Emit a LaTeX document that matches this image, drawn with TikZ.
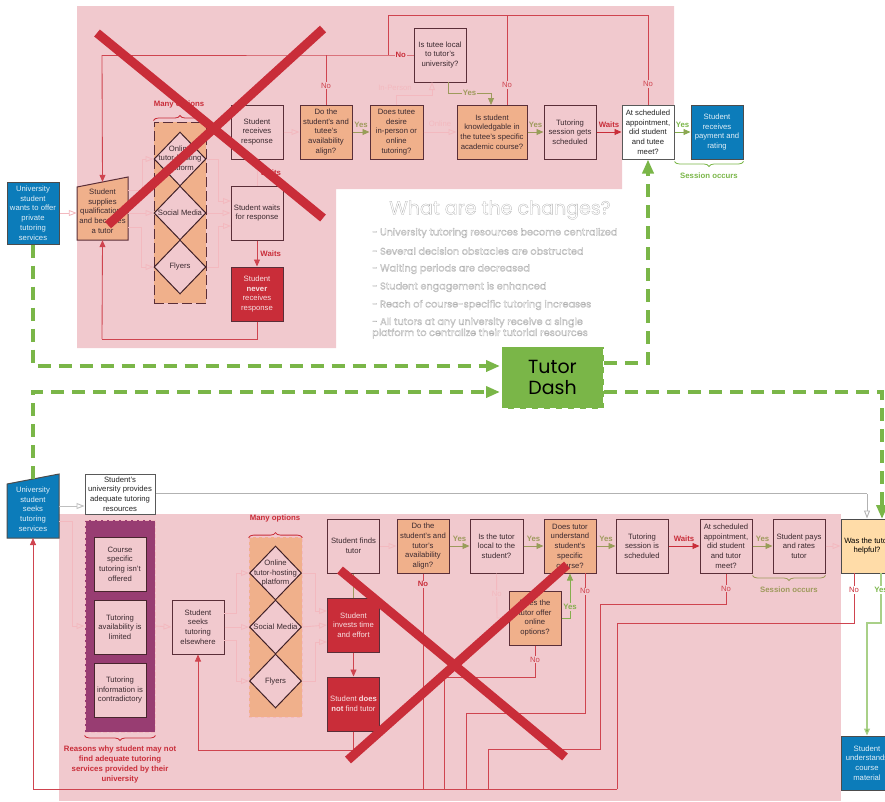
\documentclass[tikz,border=0pt]{standalone}
\usepackage{fontspec}
\setmainfont{Liberation Sans}
\newfontfamily\techfont{Poppins}
\usetikzlibrary{arrows.meta,shapes.geometric,decorations.pathreplacing}
\definecolor{wash}{HTML}{F1C9CE}
\definecolor{peach}{HTML}{F0B08B}
\definecolor{edge}{HTML}{5A2E38}
\definecolor{ink}{HTML}{3C2A30}
\definecolor{seablue}{HTML}{0C7CBA}
\definecolor{crimson}{HTML}{C92D39}
\definecolor{sour}{HTML}{9E9A5C}
\definecolor{leaf}{HTML}{7AB648}
\definecolor{faint}{HTML}{F3B9BF}
\definecolor{plum}{HTML}{983D72}
\definecolor{sand}{HTML}{FFDCA8}
\newcommand{\boxfont}{\fontsize{7.7}{9.7}\selectfont}
\newcommand{\inkline}[1]{\special{pdf:code 1 Tr 0.3 w}#1\special{pdf:code 0 Tr}}
\tikzset{
  stepbox/.style={draw=edge,line width=1pt,fill=wash,text=ink,minimum width=52pt,minimum height=54pt,inner sep=0pt,align=center,font=\boxfont},
  peachbox/.style={stepbox,fill=peach},
  bluebox/.style={stepbox,fill=seablue,draw=black!70,text=white!88!seablue},
  redbox/.style={stepbox,fill=crimson,text=white!85!crimson},
  whitebox/.style={stepbox,fill=white,draw=black!65,text=black!85},
  optionbox/.style={diamond,draw=edge!70!black,line width=1pt,fill=wash,minimum width=52pt,minimum height=54pt,inner sep=0pt,label={[align=center,font=\boxfont,text=ink]center:{#1}}},
  redline/.style={draw=crimson!85!wash,line width=0.85pt,-{Triangle[length=7pt,width=6pt]}},
  redrun/.style={draw=crimson!85!wash,line width=0.85pt},
  yesline/.style={draw=sour,line width=0.85pt,-{Triangle[length=7pt,width=6pt,fill=sour!70!leaf]}},
  paleline/.style={draw=faint,line width=0.9pt,-{Triangle[length=8pt,width=6pt,open]}},
  paleplain/.style={draw=faint,line width=0.9pt},
  greendash/.style={draw=leaf,line width=3.6pt,dash pattern=on 13pt off 8pt,-{Triangle[length=14pt,width=11pt,fill=leaf]}},
  redcross/.style={draw=crimson,line width=9pt},
  bracketline/.style={decorate,decoration={brace,amplitude=5pt},line width=0.8pt},
  notelabel/.style={font=\fontsize{7.8}{9.7}\selectfont\bfseries,inner sep=0pt,align=center},
  nolabel/.style={notelabel,text=crimson!85!wash,fill=wash,inner sep=1pt,font=\fontsize{7.7}{9}\selectfont},
  yeslabel/.style={notelabel,text=sour},
  changeline/.style={anchor=west,inner sep=0pt,align=left,text=black!32,font=\fontsize{9.7}{10}\techfont}
}
\begin{document}
\begin{tikzpicture}[x=1pt,y=-1pt]
    \useasboundingbox (0,0) rectangle (885,801);
    %% Washes
    \fill[wash] (77,6) -- (674,6) -- (674,159) -- (622,159) -- (622,189) -- (336,189) -- (336,348) -- (77,348) -- cycle;
    \fill[wash] (59,514) rectangle (841,801);

    %% Top blocks
    \node[bluebox,minimum height=62pt] (offer) at (33,213) {University\\student\\wants to offer\\private\\tutoring\\services};
    \draw[edge,line width=1pt,fill=peach] (77,187) -- (128,177) -- (128,240) -- (77,240) -- cycle;
    \node[inner sep=0pt,minimum width=51pt,minimum height=58pt,align=center,font=\boxfont,text=ink] (supply) at (102.5,211) {Student\\supplies\\qualifications\\and becomes\\a tutor};
    \node[draw=edge,line width=1pt,dash pattern=on 10pt off 4pt,fill=peach,minimum width=52pt,minimum height=181pt,inner sep=0pt] (optpanel) at (180,212.5) {};
    \node[optionbox={Online\\tutor-hosting\\platform}] (optweb) at (180,159) {};
    \node[optionbox={Social Media}] (optsocial) at (180,213) {};
    \node[optionbox={Flyers}] (optflyer) at (180,267) {};
    \node[stepbox] (response) at (257,132) {Student\\receives\\response};
    \node[stepbox] (waiting) at (257,213) {Student waits\\for response};
    \node[redbox] (never) at (257,294) {Student\\\textbf{never}\\receives\\response};
    \node[peachbox] (avail) at (326,132) {Do the\\student's and\\tutee's\\availability\\align?};
    \node[peachbox,minimum width=53pt] (mode) at (396.5,132) {Does tutee\\desire\\in-person or\\online\\tutoring?};
    \node[stepbox] (local) at (440,55) {Is tutee local\\to tutor's\\university?};
    \node[peachbox,minimum width=70pt] (course) at (492,132) {Is student\\knowledgable in\\the tutee's specific\\academic course?};
    \node[stepbox] (booked) at (570,132) {Tutoring\\session gets\\scheduled};
    \node[whitebox] (meet) at (648,132) {At scheduled\\appointment,\\did student\\and tutee\\meet?};
    \node[bluebox] (paid) at (717,132) {Student\\receives\\payment and\\rating};
    \node[notelabel,text=crimson] (manytop) at (179,104) {Many options};
    \node[notelabel,text=leaf] (sessiontop) at (709,176) {Session occurs};
    \draw[bracketline,draw=crimson] ([yshift=1pt]optpanel.north west) -- ([yshift=1pt]optpanel.north east);
    \draw[bracketline,draw=leaf,decoration={mirror}] ([yshift=-2pt]meet.south east) -- ([yshift=-2pt]paid.south east);

    %% Top connectors
    \coordinate (noreturn) at (388,15);
    \coordinate (nobranch) at (102,55);
    \draw[redrun] (local.west) -- node[nolabel,text=crimson,font=\fontsize{7.7}{9}\selectfont\bfseries] (localno) {No} (388,55) -- (nobranch);
    \draw[redline] (nobranch) -- (supply.north);
    \draw[redrun] (388,55) -- (noreturn) -- (meet.north |- noreturn);
    \draw[redrun] (meet.north) -- node[nolabel,pos=0.23] (meetno) {No} (meet.north |- noreturn);
    \draw[redrun] (course.north -| 507,0) -- node[nolabel,pos=0.22] (courseno) {No} (507,15);
    \draw[redrun] (avail.north) -- node[nolabel,pos=0.38] (availno) {No} (326,55);
    \draw[redrun] (never.south) |- (102,339);
    \draw[redline] (102,339) -- (supply.south);
    \draw[redline] (waiting.south) -- node[notelabel,text=crimson,right=3pt] (waitsb) {Waits} (never.north);
    \draw[redrun,draw=faint] (response.south) -- node[notelabel,text=crimson,right=3pt] (waitsa) {Waits} (waiting.north);
    \draw[paleline] (offer.east) -- (supply.west |- offer.east);
    \draw[paleline] (supply.east |- optsocial.west) -- (optsocial.west);
    \draw[paleline] (128,190) -- (142,190) |- (optweb.west);
    \draw[paleline] (128,227) -- (141,227) |- (optflyer.west);
    \draw[paleline] (optweb.east) -- (218,159) |- (231,201);
    \draw[paleline] (optsocial.east) -- (waiting.west);
    \draw[paleline] (optflyer.east) -- (218,267) |- (231,226);
    \draw[paleline] (response.east) -- (avail.west);
    \draw[yesline] (avail.east) -- node[yeslabel,above=4.5pt] (yesa) {Yes} (mode.west);
    \draw[paleline] (mode.east) -- node[notelabel,text=faint,above=4.5pt,font=\fontsize{7.7}{9.5}\selectfont] (online) {Online} (course.west);
    \draw[paleline] (396,105) -- (396,95) -| (432,82);
    \node[notelabel,text=faint,font=\fontsize{7.7}{9.5}\selectfont] (inperson) at (395,88) {In-Person};
    \draw[yesline] (448,82) |- (491,93) node[yeslabel,pos=0.75,fill=wash,inner sep=1pt] (yesb) {Yes} -- (491,105);
    \draw[yesline] (course.east) -- node[yeslabel,above=4.5pt] (yesc) {Yes} (booked.west);
    \draw[redline,draw=crimson] (booked.east) -- node[notelabel,text=crimson,above=4.5pt] (waitsc) {Waits} (meet.west);
    \draw[yesline,draw=leaf!70!sour] (meet.east) -- node[yeslabel,text=leaf,above=4.5pt] (yesd) {Yes} (paid.west);

    %% Changes
    \node[inner sep=0pt,font=\fontsize{19}{21}\techfont,text=black!30] (changes) at (500,210) {\inkline{What are the changes?}};
    \node[changeline] (chga) at (372,233) {\inkline{- University tutoring resources become centralized}};
    \node[changeline] (chgb) at (372,251) {\inkline{- Several decision obstacles are obstructed}};
    \node[changeline] (chgc) at (372,269) {\inkline{- Waiting periods are decreased}};
    \node[changeline] (chgd) at (372,287) {\inkline{- Student engagement is enhanced}};
    \node[changeline] (chge) at (372,305) {\inkline{- Reach of course-specific tutoring increases}};
    \node[changeline] (chgf) at (372,328) {\inkline{- All tutors at any university receive a single}\\\inkline{platform to centralize their tutorial resources}};

    %% Lower blocks
    \draw[black!70,line width=1pt,fill=seablue] (7,484) -- (59,474) -- (59,538) -- (7,538) -- cycle;
    \node[inner sep=0pt,minimum width=52pt,minimum height=60pt,align=center,font=\boxfont,text=white!88!seablue] (seeker) at (33,509) {University\\student\\seeks\\tutoring\\services};
    \node[whitebox,minimum width=70pt,minimum height=40pt] (provides) at (120,494) {Student's\\university provides\\adequate tutoring\\resources};
    \node[draw=faint,line width=1pt,dash pattern=on 4pt off 2pt,fill=plum,minimum width=70pt,minimum height=212pt,inner sep=0pt] (reasons) at (120,626) {};
    \node[stepbox,draw=edge!80!black] (reasona) at (120,564) {Course\\specific\\tutoring isn't\\offered};
    \node[stepbox,draw=edge!80!black] (reasonb) at (120,627) {Tutoring\\availability is\\limited};
    \node[stepbox,draw=edge!80!black] (reasonc) at (120,690) {Tutoring\\information is\\contradictory};
    \node[notelabel,text=crimson] (reasonsnote) at (120,764.5) {Reasons why student may not\\find adequate  tutoring\\services provided by their\\university};
    \node[stepbox] (seeks) at (198,627) {Student\\seeks\\tutoring\\elsewhere};
    \node[draw=faint,line width=0.8pt,dashed,fill=peach,minimum width=53pt,minimum height=180pt,inner sep=0pt] (lowpanel) at (275.5,627) {};
    \node[optionbox={Online\\tutor-hosting\\platform}] (lowweb) at (275.5,573) {};
    \node[optionbox={Social Media}] (lowsocial) at (275.5,627) {};
    \node[optionbox={Flyers}] (lowflyer) at (275.5,681) {};
    \node[stepbox] (finds) at (353.5,546) {Student finds\\tutor};
    \node[redbox] (invests) at (353.5,625) {Student\\invests time\\and effort};
    \node[redbox] (notfound) at (353.5,704) {Student \textbf{does}\\\textbf{not} find tutor};
    \node[peachbox] (lowavail) at (423,546) {Do the\\student's and\\tutor's\\availability\\align?};
    \node[stepbox,minimum width=53pt] (lowlocal) at (496.5,546) {Is the tutor\\local to the\\student?};
    \node[peachbox] (lowcourse) at (570,546) {Does tutor\\understand\\student's\\specific\\course?};
    \node[peachbox] (offeronline) at (535,618) {Does the\\tutor offer\\online\\options?};
    \node[stepbox] (lowbooked) at (642,546) {Tutoring\\session is\\scheduled};
    \node[stepbox] (lowmeet) at (726,546) {At scheduled\\appointment,\\did student\\and tutor\\meet?};
    \node[stepbox] (rates) at (799,546) {Student pays\\and rates\\tutor};
    \node[stepbox,fill=sand,draw=black!70,text=black] (helpful) at (867,546) {Was the tutor\\helpful?};
    \node[bluebox] (understands) at (867,763) {Student\\understands\\course\\material};
    \node[notelabel,text=crimson] (manylow) at (275,518) {Many options};
    \node[notelabel,text=sour] (sessionlow) at (789,590) {Session occurs};
    \draw[bracketline,draw=crimson] ([yshift=-1pt]lowpanel.north west) -- ([yshift=-1pt]lowpanel.north east);
    \draw[bracketline,draw=sour,decoration={mirror}] ([yshift=-2pt]lowmeet.south east) -- ([yshift=-2pt]rates.south east);
    \draw[bracketline,draw=crimson,decoration={mirror}] ([yshift=-3pt]reasons.south west) -- ([yshift=-3pt]reasons.south east);

    %% Lower connectors
    \draw[paleline,draw=black!25] (59,506) -- (provides.west |- 0,506);
    \draw[paleline] (59,521) -- (72,521) |- (reasons.west);
    \draw[paleline] (reasons.east) -- (seeks.west);
    \draw[paleline] (224,613) -- (236,613) |- (lowweb.west);
    \draw[paleline] (seeks.east) -- (lowsocial.west);
    \draw[paleline] (224,640) -- (236,640) |- (lowflyer.west);
    \draw[paleline] (lowweb.east) -- (315,573) |- (327,611);
    \draw[paleline] (lowsocial.east) -- (invests.west);
    \draw[paleline] (lowflyer.east) -- (315,681) |- (327,642);
    \draw[draw=black!30,line width=2.4pt] (provides.east) -- (867,494);
    \draw[draw=white,line width=0.8pt] (provides.east) -- (867,494);
    \draw[paleline,draw=black!30] (867,494) -- (helpful.north);
    \draw[paleline] (finds.east) -- (lowavail.west);
    \draw[yesline] (lowavail.east) -- node[yeslabel,above=4.5pt] (lowyesa) {Yes} (lowlocal.west);
    \draw[yesline] (lowlocal.east) -- node[yeslabel,above=4.5pt] (lowyesb) {Yes} (lowcourse.west);
    \draw[yesline] (lowcourse.east) -- node[yeslabel,above=4.5pt] (lowyesc) {Yes} (lowbooked.west);
    \draw[redline,draw=crimson] (lowbooked.east) -- node[notelabel,text=crimson,above=4.5pt] (lowwaits) {Waits} (lowmeet.west);
    \draw[yesline] (lowmeet.east) -- node[yeslabel,above=4.5pt] (lowyesd) {Yes} (rates.west);
    \draw[paleline] (rates.east) -- (helpful.west);
    \draw[paleplain,draw=sour] (finds.south) -- (invests.north);
    \draw[redline] (invests.south) -- (notfound.north);
    \draw[redrun] (notfound.south) |- (198,750);
    \draw[redline] (198,750) -- (seeks.south);
    \draw[redline] (617,789) -- (33,789) -- (33,538);
    \draw[redrun] (lowavail.south) -- node[nolabel,pos=0.05,font=\fontsize{7.7}{9}\selectfont\bfseries,text=crimson] (lowno) {No} (423,789);
    \draw[paleplain] (lowlocal.south) -- node[nolabel,pos=0.45,text=faint] (lowlocalno) {No} (497,618) -- (offeronline.west);
    \draw[redrun] (offeronline.south) -- node[nolabel,pos=0.45] (offerno) {No} (535,677) -- (444,677) -- (444,789);
    \draw[yesline,draw=leaf!70!sour] (offeronline.east) -- (570,618) -- node[yeslabel,text=leaf!70!sour,pos=0.25,fill=wash,inner sep=1pt] (offeryes) {Yes} (lowcourse.south);
    \draw[redrun] (585,573) -- node[nolabel,pos=0.13] (lowcourseno) {No} (585,713) -- (466,713) -- (466,789);
    \draw[redrun] (lowmeet.south) -- node[nolabel,pos=0.5] (lowmeetno) {No} (726,604) -- (600,604) -- (600,749) -- (488,749) -- (488,789);
    \draw[redrun] (854,573) -- node[nolabel,pos=0.34,text=crimson,fill=white] (helpno) {No} (854,623) -- (617,623) -- (617,789);
    \draw[line width=1.2pt,draw=leaf!65!white,-{Triangle[length=7pt,width=6pt,fill=leaf]}] (881,573) -- node[yeslabel,text=leaf,pos=0.34,fill=white,inner sep=1pt] (helpyes) {Yes} (881,623) -| (understands.north);

    %% Tutor Dash
    \draw[greendash] (offer.south) -- (33,366) -- (500,366);
    \draw[greendash] (seeker.north) -- (33,392) -- (500,392);
    \draw[greendash] (604,363) -- (648,363) -- (meet.south);
    \draw[greendash] (604,392) -- (882,392) -- (882,519);
    \node[draw=white,dash pattern=on 6pt off 6pt,line width=1.5pt,fill=leaf,minimum width=102pt,minimum height=62pt,inner sep=0pt,align=center,text=black,font=\fontsize{19}{20.5}\techfont] (dash) at (552.5,377.5) {Tutor\\Dash};

    %% Crosses
    \draw[redcross] (97,33) -- (323,218);
    \draw[redcross] (323,29) -- (108,225);
    \draw[redcross] (340,570) -- (565,757);
    \draw[redcross] (567,565) -- (348,760);
\end{tikzpicture}
\end{document}
